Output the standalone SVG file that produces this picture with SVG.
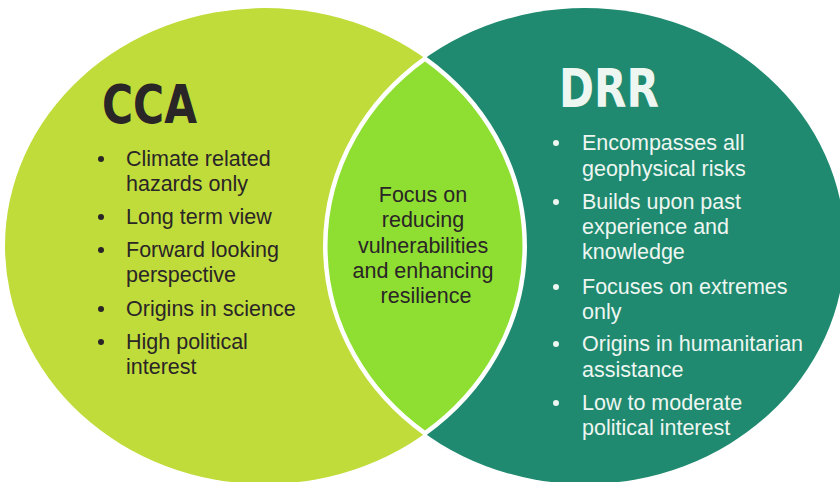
<svg xmlns="http://www.w3.org/2000/svg" width="840" height="482" viewBox="0 0 840 482">
<style>
.t{font-family:"Liberation Sans",Arial,sans-serif;font-size:21.5px}
.dk{fill:#2a2526}
.wh{fill:#eef6f1}
.h{font-family:"DejaVu Sans","Liberation Sans",sans-serif;font-weight:bold;font-size:54px}
.c{text-anchor:middle}
</style>
<rect width="840" height="482" fill="#ffffff"/>
<g id="cca">
<ellipse cx="265" cy="246" rx="260" ry="238" fill="#c0dc3b"/>
<text class="h dk" x="102" y="123" textLength="95" lengthAdjust="spacingAndGlyphs">CCA</text>
<g class="dk">
<circle cx="101" cy="159" r="3"/>
<circle cx="101" cy="217" r="3"/>
<circle cx="101" cy="250" r="3"/>
<circle cx="101" cy="309" r="3"/>
<circle cx="101" cy="342" r="3"/>
</g>
<text class="t dk" x="126">
<tspan x="126" y="166">Climate related</tspan>
<tspan x="126" y="191">hazards only</tspan>
<tspan x="126" y="224">Long term view</tspan>
<tspan x="126" y="257">Forward looking</tspan>
<tspan x="126" y="282">perspective</tspan>
<tspan x="126" y="316">Origins in science</tspan>
<tspan x="126" y="349">High political</tspan>
<tspan x="126" y="374">interest</tspan>
</text>
</g>
<g id="drr">
<ellipse cx="585" cy="246" rx="260" ry="238" fill="#1f8a70"/>
<text class="h wh" x="559" y="107" textLength="100" lengthAdjust="spacingAndGlyphs">DRR</text>
<g class="wh">
<circle cx="556" cy="143" r="3"/>
<circle cx="556" cy="202" r="3"/>
<circle cx="556" cy="287" r="3"/>
<circle cx="556" cy="344" r="3"/>
<circle cx="556" cy="403" r="3"/>
</g>
<text class="t wh">
<tspan x="582" y="150">Encompasses all</tspan>
<tspan x="582" y="176">geophysical risks</tspan>
<tspan x="582" y="209">Builds upon past</tspan>
<tspan x="582" y="234">experience and</tspan>
<tspan x="582" y="259">knowledge</tspan>
<tspan x="582" y="294">Focuses on extremes</tspan>
<tspan x="582" y="319">only</tspan>
<tspan x="582" y="351">Origins in humanitarian</tspan>
<tspan x="582" y="377">assistance</tspan>
<tspan x="582" y="410">Low to moderate</tspan>
<tspan x="582" y="435">political interest</tspan>
</text>
</g>
<g id="overlap">
<path d="M425 58.6 A260 238 0 0 1 425 433.4 A260 238 0 0 1 425 58.6 Z" fill="#8fdf32" stroke="#ffffff" stroke-width="4.5"/>
<text class="t dk c">
<tspan x="426" y="202">Focus on</tspan>
<tspan x="426" y="227">reducing</tspan>
<tspan x="426" y="253">vulnerabilities</tspan>
<tspan x="426" y="278">and enhancing</tspan>
<tspan x="426" y="303">resilience</tspan>
</text>
</g>
<g id="connectors"></g>
</svg>
